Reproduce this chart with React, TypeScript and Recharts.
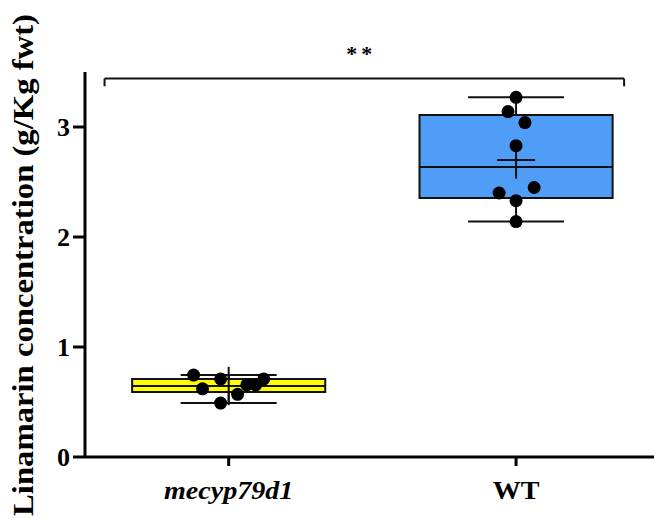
import { ComposedChart, XAxis, YAxis, Scatter, ReferenceArea, ReferenceLine } from "recharts";

const groups = ["mecyp79d1", "WT"];
const q1 = [0.59, 2.355];
const q3 = [0.71, 3.11];
const medians = [0.645, 2.636];
const whiskerLow = [0.49, 2.14];
const whiskerHigh = [0.745, 3.27];
const means = [0.645, 2.7];
const meanErr = [0.175, 0.17];
const boxColors = ["#FFFF00", "#4F9DF6"];

const mecypValues = [0.745, 0.62, 0.71, 0.49, 0.57, 0.655, 0.655, 0.71];
const mecypJitter = [-0.122, -0.091, -0.028, -0.028, 0.031, 0.063, 0.094, 0.122];
const wtValues = [3.27, 3.14, 3.04, 2.83, 2.45, 2.4, 2.33, 2.14];
const wtJitter = [0, -0.028, 0.031, 0, 0.063, -0.059, 0, 0];

const yTicks = [0, 1, 2, 3];
const sigLabel = "**";
const sigLevel = 3.44;
const sigFrom = -0.432;
const sigTo = 1.376;

const BOX_HALF = 0.336;
const CAP_HALF = 0.167;
const MEAN_HALF = 0.066;

const points = [
  ...mecypValues.map((v, i) => ({ x: 0 + mecypJitter[i], y: v })),
  ...wtValues.map((v, i) => ({ x: 1 + wtJitter[i], y: v })),
];

const FONT = "'Liberation Serif', 'Times New Roman', serif";

function XTick(props: any) {
  const { x, y, payload } = props;
  const idx = payload.value;
  return (
    <text
      x={0}
      y={0}
      transform={`translate(${x}, ${y + 31}) scale(1.08, 1)`}
      textAnchor="middle"
      fontFamily={FONT}
      fontSize={26}
      fontWeight="bold"
      fontStyle={idx === 0 ? "italic" : "normal"}
      fill="#000"
    >
      {groups[idx]}
    </text>
  );
}

function YTick(props: any) {
  const { x, y, payload } = props;
  return (
    <text x={x} y={y} dy={9} textAnchor="end" fontFamily={FONT} fontSize={26} fontWeight="bold" fill="#000">
      {payload.value}
    </text>
  );
}

function YLabel(props: any) {
  const { viewBox } = props;
  const cy = viewBox.y + viewBox.height / 2;
  return (
    <text
      x={0}
      y={0}
      transform={`translate(33, ${cy + 0.5}) rotate(-90) scale(1.09, 1)`}
      textAnchor="middle"
      fontFamily={FONT}
      fontSize={30}
      fontWeight="bold"
      fill="#000"
    >
      Linamarin concentration (g/Kg fwt)
    </text>
  );
}

function SigLabel(props: any) {
  const { viewBox } = props;
  return (
    <text
      x={viewBox.x + viewBox.width / 2 - 3}
      y={viewBox.y - 18}
      textAnchor="middle"
      fontFamily={FONT}
      fontSize={22}
      fontWeight="bold"
      letterSpacing={4}
      fill="#000"
    >
      {sigLabel}
    </text>
  );
}

export default function App() {
  return (
    <div style={{ width: 654, height: 519, background: "#fff" }}>
      <style>{`body{margin:0}`}</style>
      <ComposedChart width={654} height={519} margin={{ top: 72, right: 0, bottom: 0, left: 0 }}>
        <XAxis
          type="number"
          dataKey="x"
          domain={[-0.5, 1.48]}
          ticks={[0, 1]}
          allowDataOverflow
          height={62}
          tick={<XTick />}
          tickSize={9}
          axisLine={{ stroke: "#000", strokeWidth: 3 }}
          tickLine={{ stroke: "#000", strokeWidth: 3 }}
        />
        <YAxis
          type="number"
          dataKey="y"
          domain={[0, 3.5]}
          ticks={yTicks}
          width={85}
          tick={<YTick />}
          tickSize={12}
          tickMargin={3}
          axisLine={{ stroke: "#000", strokeWidth: 3 }}
          tickLine={{ stroke: "#000", strokeWidth: 3 }}
          label={<YLabel />}
        />
        {groups.map((g, i) => (
          <ReferenceArea
            key={`box-${g}`}
            x1={i - BOX_HALF}
            x2={i + BOX_HALF}
            y1={q1[i]}
            y2={q3[i]}
            fill={boxColors[i]}
            fillOpacity={1}
            stroke="#111"
            strokeWidth={2}
          />
        ))}
        {groups.map((g, i) => (
          <ReferenceLine
            key={`med-${g}`}
            segment={[{ x: i - BOX_HALF, y: medians[i] }, { x: i + BOX_HALF, y: medians[i] }]}
            stroke="#111"
            strokeWidth={2}
          />
        ))}
        {groups.map((g, i) => (
          <ReferenceLine
            key={`wh-${g}`}
            segment={[{ x: i, y: whiskerHigh[i] }, { x: i, y: q3[i] }]}
            stroke="#111"
            strokeWidth={2}
          />
        ))}
        {groups.map((g, i) => (
          <ReferenceLine
            key={`wl-${g}`}
            segment={[{ x: i, y: q1[i] }, { x: i, y: whiskerLow[i] }]}
            stroke="#111"
            strokeWidth={2}
          />
        ))}
        {groups.map((g, i) => (
          <ReferenceLine
            key={`ch-${g}`}
            segment={[{ x: i - CAP_HALF, y: whiskerHigh[i] }, { x: i + CAP_HALF, y: whiskerHigh[i] }]}
            stroke="#111"
            strokeWidth={2}
          />
        ))}
        {groups.map((g, i) => (
          <ReferenceLine
            key={`cl-${g}`}
            segment={[{ x: i - CAP_HALF, y: whiskerLow[i] }, { x: i + CAP_HALF, y: whiskerLow[i] }]}
            stroke="#111"
            strokeWidth={2}
          />
        ))}
        {groups.map((g, i) => (
          <ReferenceLine
            key={`mh-${g}`}
            segment={[{ x: i - MEAN_HALF, y: means[i] }, { x: i + MEAN_HALF, y: means[i] }]}
            stroke="#111"
            strokeWidth={2}
          />
        ))}
        {groups.map((g, i) => (
          <ReferenceLine
            key={`mv-${g}`}
            segment={[{ x: i, y: means[i] - meanErr[i] }, { x: i, y: means[i] + meanErr[i] }]}
            stroke="#111"
            strokeWidth={2}
          />
        ))}
        <ReferenceLine
          segment={[{ x: sigFrom, y: sigLevel }, { x: sigTo, y: sigLevel }]}
          stroke="#111"
          strokeWidth={2}
          ifOverflow="visible"
          label={<SigLabel />}
        />
        <ReferenceLine
          segment={[{ x: sigFrom, y: sigLevel }, { x: sigFrom, y: sigLevel - 0.07 }]}
          stroke="#111"
          strokeWidth={2}
        />
        <ReferenceLine
          segment={[{ x: sigTo, y: sigLevel }, { x: sigTo, y: sigLevel - 0.07 }]}
          stroke="#111"
          strokeWidth={2}
        />
        <Scatter
          data={points}
          isAnimationActive={false}
          shape={(p: any) => <circle cx={p.cx} cy={p.cy} r={6.5} fill="#000" />}
        />
      </ComposedChart>
    </div>
  );
}
